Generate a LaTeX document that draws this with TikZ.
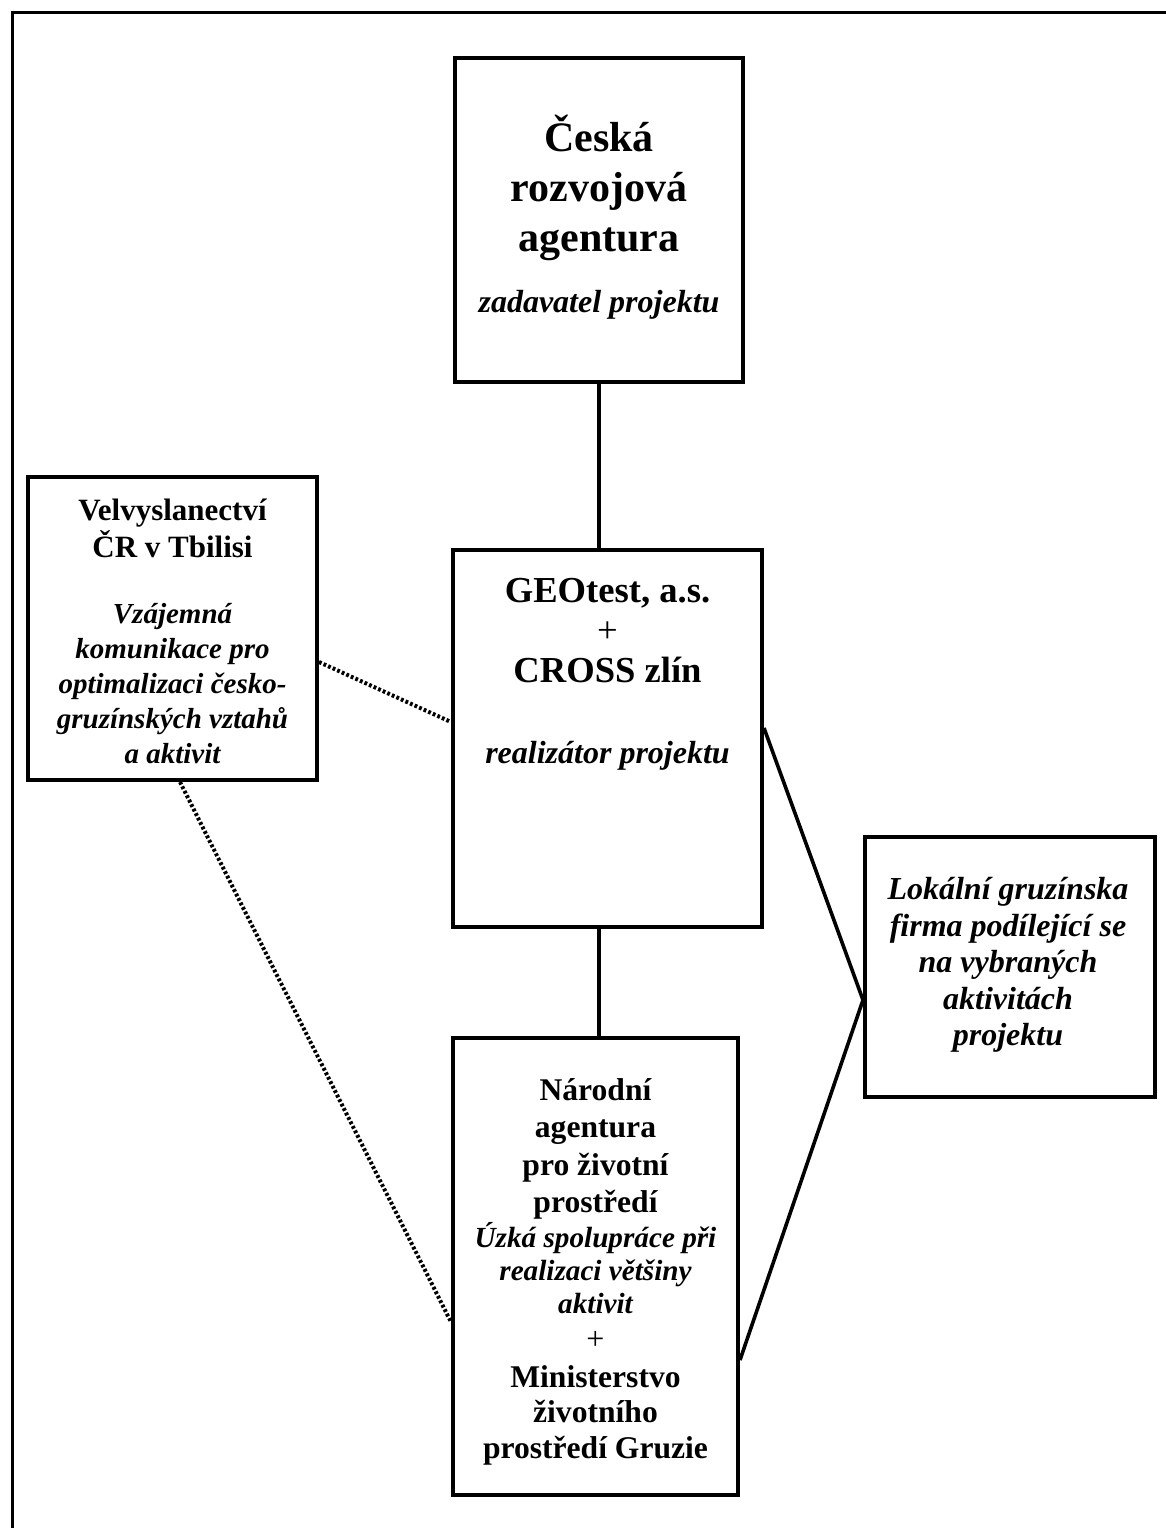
\documentclass[tikz,border=0pt]{standalone}
\usepackage{fontspec}
\setmainfont{Liberation Serif}
\usepackage{tikz}
\usetikzlibrary{positioning}

\begin{document}
\begin{tikzpicture}[
  x=0.5pt, y=-0.5pt,
  box/.style={draw, line width=2pt, inner sep=0pt},
  head/.style={align=center, inner sep=0pt, font=\bfseries\fontsize{15.5}{18.5}\selectfont},
  role/.style={align=center, inner sep=0pt, font=\bfseries\itshape\fontsize{14.5}{17.5}\selectfont},
  link/.style={line width=1.8pt},
  loose/.style={line width=2pt, dash pattern=on 1.4pt off 1.1pt},
]
\useasboundingbox (0,0) rectangle (1166,1528);
\draw[line width=1.5pt] (12,1528) -- (12,12) -- (1166,12);

\node[box, minimum width=144pt, minimum height=162pt] (cra) at (599,220) {};
\node[head, font=\bfseries\fontsize{21}{25}\selectfont] (cra-n) at (599,188) {Česká\\rozvojová\\agentura};
\node[role, font=\bfseries\itshape\fontsize{16}{18}\selectfont] (cra-r) at (599,305) {zadavatel projektu};

\node[box, minimum width=154.5pt, minimum height=188.5pt] (geo) at (607.5,738.5) {};
\node[head, font=\bfseries\fontsize{18.3}{20}\selectfont] (geo-n) at (607.5,631)
  {GEOtest, a.s.\\{\mdseries +}\\CROSS zlín};
\node[role, font=\bfseries\itshape\fontsize{16}{18}\selectfont] (geo-r) at (607.5,756) {realizátor projektu};

\node[box, minimum width=144.5pt, minimum height=151.5pt] (emb) at (172.5,628.5) {};
\node[head] (emb-n) at (172.5,528) {Velvyslanectví\\ČR v Tbilisi};
\node[role] (emb-r) at (172.5,684)
  {Vzájemná\\komunikace pro\\optimalizaci česko-\\gruzínských vztahů\\a aktivit};

\node[box, minimum width=145pt, minimum height=130pt] (loc) at (1010,967) {};
\node[role, font=\bfseries\itshape\fontsize{16}{18.25}\selectfont] (loc-r) at (1008,965)
  {Lokální gruzínska\\firma podílející se\\na vybraných\\aktivitách\\projektu};

\node[box, minimum width=142.5pt, minimum height=228.5pt] (nae) at (595.5,1266.5) {};
\node[head, font=\bfseries\fontsize{15.8}{18.7}\selectfont] (nae-n) at (595.5,1149)
  {Národní\\agentura\\pro životní\\prostředí};
\node[role, font=\bfseries\itshape\fontsize{14.6}{16.5}\selectfont] (nae-r) at (595.5,1268)
  {Úzká spolupráce při\\realizaci většiny\\aktivit};
\node[font=\fontsize{16}{18}\selectfont, inner sep=0pt] (nae-p) at (595.5,1340) {+};
\node[head, font=\bfseries\fontsize{15.8}{17.75}\selectfont] (nae-m) at (595.5,1415)
  {Ministerstvo\\životního\\prostředí Gruzie};

\draw[link] (cra.south) -- (cra.south |- geo.north);
\draw[link] (cra.south |- geo.south) -- (cra.south |- nae.north);
\draw[link] (geo.east |- 0,728) -- (loc.west |- 0,1000);
\draw[link] (nae.east |- 0,1360) -- (loc.west |- 0,1000);
\draw[loose] (emb.east |- 0,662) -- (geo.west |- 0,722);
\draw[loose] (emb.south -| 180,0) -- (nae.west |- 0,1322);
\end{tikzpicture}
\end{document}
